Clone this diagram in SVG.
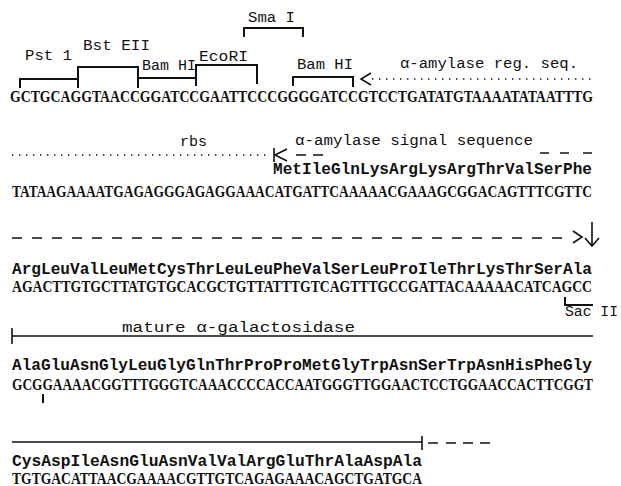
<svg xmlns="http://www.w3.org/2000/svg" width="621" height="486" viewBox="0 0 621 486">
<style>
.dna{font-family:"Liberation Serif","Times New Roman",serif;font-weight:bold;font-size:13.5px;fill:#111}
.aa{font-family:"Liberation Mono","Courier New",monospace;font-weight:bold;font-size:16px;fill:#111}
.lbl{font-family:"Liberation Mono","Courier New",monospace;font-size:15.5px;fill:#111}
.br{fill:none;stroke:#111;stroke-width:2}
.ln{fill:none;stroke:#111;stroke-width:1.6}
.dot{fill:none;stroke:#111;stroke-width:1.4;stroke-dasharray:1.4 5.6}
.dash{fill:none;stroke:#111;stroke-width:1.6;stroke-dasharray:10 10}
</style>
<rect width="621" height="486" fill="#fff"/>
<g id="site-labels">
<text class="lbl" x="25" y="60" textLength="47" lengthAdjust="spacingAndGlyphs">Pst 1</text>
<text class="lbl" x="83" y="50" textLength="67" lengthAdjust="spacingAndGlyphs">Bst EII</text>
<text class="lbl" x="142" y="70" textLength="54" lengthAdjust="spacingAndGlyphs">Bam HI</text>
<text class="lbl" x="199" y="61" textLength="49" lengthAdjust="spacingAndGlyphs">EcoRI</text>
<text class="lbl" x="248" y="22" textLength="47" lengthAdjust="spacingAndGlyphs">Sma I</text>
<text class="lbl" x="297" y="69" textLength="56" lengthAdjust="spacingAndGlyphs">Bam HI</text>
<text class="lbl" x="400" y="68" textLength="178" lengthAdjust="spacingAndGlyphs">α-amylase reg. seq.</text>
<text class="lbl" x="180" y="146" textLength="27" lengthAdjust="spacingAndGlyphs">rbs</text>
<text class="lbl" x="295" y="145" textLength="238" lengthAdjust="spacingAndGlyphs">α-amylase signal sequence</text>
<text class="lbl" x="565" y="316" textLength="53" lengthAdjust="spacingAndGlyphs">Sac II</text>
<text class="lbl" x="122" y="332" textLength="233" lengthAdjust="spacingAndGlyphs">mature α-galactosidase</text>
</g>
<g id="connectors">
<path class="br" d="M20,88 V79 H78"/>
<path class="br" d="M78,88 V67 H138 V88"/>
<path class="br" d="M138,78 H196"/>
<path class="br" d="M196,86 V65 H257 V84"/>
<path class="br" d="M244,37 V28 H303 V37"/>
<path class="br" d="M293,86 V77 H353 V87"/>
<path class="ln" d="M371,73 L361,79 L371,85"/>
<line class="dot" x1="372" y1="79" x2="593" y2="79"/>
<line class="dot" x1="12" y1="155" x2="270" y2="155"/>
<path class="ln" d="M274,148 V162 M287,149 L275,155 L287,161"/>
<path class="ln" d="M296,155 H306 M313,155 H323 M540,153 H549 M560,153 H569 M583,153 H592"/>
<line class="dash" x1="12" y1="238" x2="568" y2="238"/>
<path class="ln" d="M573,231 L582,237 L573,243"/>
<path class="ln" d="M592,222 V246 M585,238 L592,246 L599,238"/>
<path class="br" d="M565,297 V305 H593"/>
<path class="ln" d="M12,328 V344 M12,336 H593"/>
<path class="br" d="M43,394 V403"/>
<path class="ln" d="M12,442 H422 M422,436 V450"/>
<path class="ln" d="M428,443 H438 M446,443 H456 M463,443 H473 M480,443 H490"/>
</g>
<g id="sequence-1">
<text class="dna" transform="translate(10 102) scale(1 1.2)" textLength="583" lengthAdjust="spacingAndGlyphs">GCTGCAGGTAACCGGATCCGAATTCCCGGGGATCCGTCCTGATATGTAAAATATAATTTG</text>
</g>
<g id="sequence-2">
<text class="aa" x="273" y="174" textLength="319" lengthAdjust="spacingAndGlyphs">MetIleGlnLysArgLysArgThrValSerPhe</text>
<text class="dna" transform="translate(12 197) scale(1 1.2)" textLength="580" lengthAdjust="spacingAndGlyphs">TATAAGAAAATGAGAGGGAGAGGAAACATGATTCAAAAACGAAAGCGGACAGTTTCGTTC</text>
</g>
<g id="sequence-3">
<text class="aa" x="12" y="274" textLength="580" lengthAdjust="spacingAndGlyphs">ArgLeuValLeuMetCysThrLeuLeuPheValSerLeuProIleThrLysThrSerAla</text>
<text class="dna" transform="translate(12 292) scale(1 1.2)" textLength="580" lengthAdjust="spacingAndGlyphs">AGACTTGTGCTTATGTGCACGCTGTTATTTGTCAGTTTGCCGATTACAAAAACATCAGCC</text>
</g>
<g id="sequence-4">
<text class="aa" x="12" y="370" textLength="580" lengthAdjust="spacingAndGlyphs">AlaGluAsnGlyLeuGlyGlnThrProProMetGlyTrpAsnSerTrpAsnHisPheGly</text>
<text class="dna" transform="translate(12 390) scale(1 1.2)" textLength="581" lengthAdjust="spacingAndGlyphs">GCGGAAAACGGTTTGGGTCAAACCCCACCAATGGGTTGGAACTCCTGGAACCACTTCGGT</text>
</g>
<g id="sequence-5">
<text class="aa" x="12" y="466" textLength="410" lengthAdjust="spacingAndGlyphs">CysAspIleAsnGluAsnValValArgGluThrAlaAspAla</text>
<text class="dna" transform="translate(12 484) scale(1 1.2)" textLength="410" lengthAdjust="spacingAndGlyphs">TGTGACATTAACGAAAACGTTGTCAGAGAAACAGCTGATGCA</text>
</g>
</svg>
